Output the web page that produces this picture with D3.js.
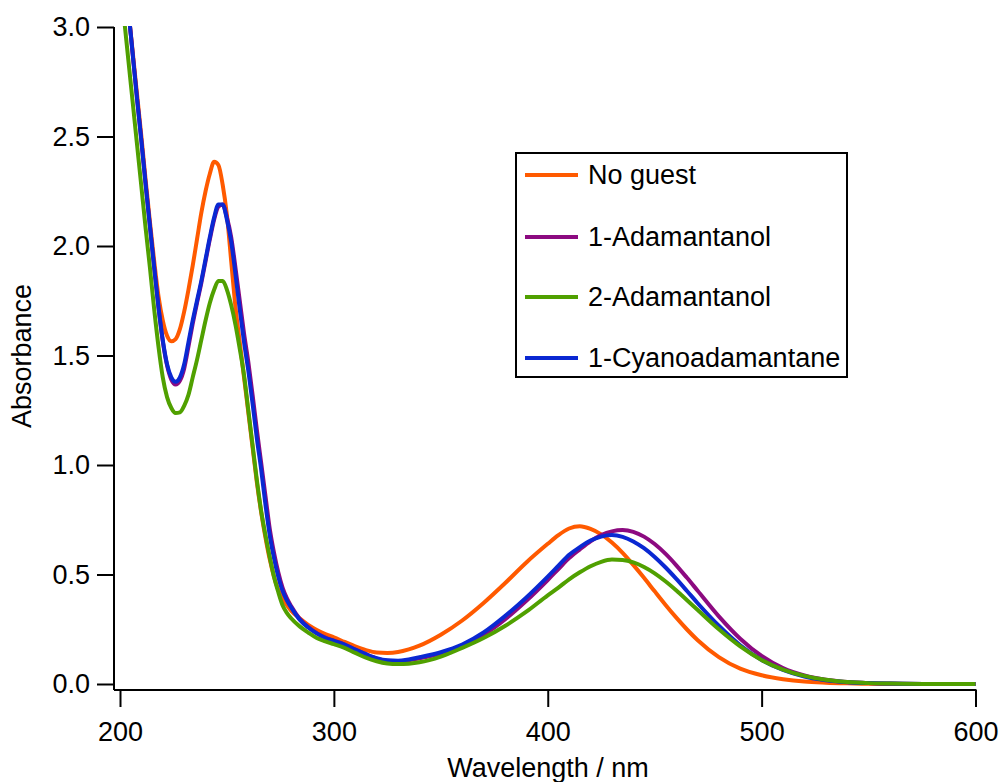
<!DOCTYPE html>
<html>
<head>
<meta charset="utf-8">
<script src="https://cdn.jsdelivr.net/npm/d3@7"></script>
<style>
  body { margin: 0; background: #fff; }
  svg { display: block; font-family: "Liberation Sans", Arial, sans-serif; }
</style>
</head>
<body>
<svg class="spectrum" width="1002" height="782"></svg>
<script>
// wavelength grid (nm) shared by all four spectra
const wavelengths = [200,202,204,206,208,210,212,214,216,218,220,222,224,226,228,230,232,234,236,238,
  240,242,244,246,248,250,252,254,256,258,260,262,264,266,268,270,272,274,276,278,280,
  284,288,292,296,300,305,310,315,320,325,330,335,340,350,360,370,380,390,400,
  405,410,415,420,425,430,435,440,445,450,455,460,465,470,480,490,500,510,520,530,540,550,560,580,600];

const noGuest = [3.45,3.26,3.07,2.88,2.69,2.50,2.30,2.11,1.93,1.77,1.66,1.59,1.565,1.575,1.62,1.70,1.80,1.91,2.03,2.15,
  2.25,2.33,2.385,2.37,2.28,2.14,1.93,1.72,1.56,1.40,1.24,1.08,0.92,0.785,0.67,0.57,0.49,0.43,0.39,0.36,0.335,
  0.30,0.27,0.247,0.228,0.213,0.192,0.172,0.155,0.144,0.142,0.146,0.158,0.175,0.225,0.29,0.37,0.46,0.555,0.64,
  0.68,0.71,0.72,0.708,0.683,0.646,0.599,0.544,0.485,0.423,0.362,0.304,0.25,0.201,0.123,0.07,0.04,0.022,0.011,0.006,0.003,0.001,0,0,0];

const adamantanol1 = [3.45,3.26,3.07,2.87,2.67,2.48,2.28,2.09,1.90,1.72,1.565,1.455,1.39,1.368,1.385,1.44,1.54,1.645,1.74,1.83,
  1.93,2.03,2.12,2.18,2.19,2.13,2.04,1.90,1.75,1.60,1.47,1.32,1.16,1.01,0.86,0.71,0.60,0.51,0.44,0.392,0.356,
  0.298,0.26,0.232,0.212,0.198,0.18,0.157,0.135,0.116,0.106,0.103,0.108,0.117,0.14,0.175,0.225,0.295,0.38,0.475,
  0.525,0.575,0.615,0.652,0.68,0.697,0.703,0.695,0.673,0.639,0.595,0.543,0.486,0.427,0.309,0.207,0.128,0.073,0.039,0.019,0.009,0.004,0.002,0,0];

const adamantanol2 = [3.22,3.03,2.84,2.65,2.46,2.27,2.08,1.90,1.71,1.54,1.40,1.31,1.26,1.237,1.24,1.27,1.32,1.40,1.48,1.57,
  1.66,1.74,1.80,1.84,1.84,1.80,1.73,1.64,1.53,1.41,1.25,1.09,0.93,0.79,0.68,0.58,0.49,0.42,0.36,0.325,0.30,
  0.263,0.235,0.21,0.195,0.182,0.165,0.142,0.12,0.104,0.094,0.091,0.093,0.099,0.125,0.165,0.21,0.265,0.33,0.405,
  0.44,0.478,0.51,0.538,0.558,0.568,0.566,0.555,0.534,0.505,0.469,0.428,0.384,0.339,0.25,0.172,0.11,0.066,0.037,0.019,0.009,0.004,0.002,0,0];

const cyanoadamantane = [3.45,3.26,3.07,2.87,2.67,2.48,2.28,2.09,1.90,1.72,1.57,1.46,1.40,1.38,1.40,1.46,1.56,1.66,1.75,1.84,
  1.94,2.04,2.13,2.19,2.19,2.12,2.02,1.87,1.71,1.56,1.43,1.28,1.12,0.98,0.82,0.68,0.575,0.49,0.425,0.382,0.35,
  0.294,0.258,0.231,0.21,0.197,0.18,0.157,0.136,0.118,0.108,0.106,0.112,0.122,0.145,0.18,0.235,0.31,0.395,0.49,
  0.54,0.59,0.625,0.655,0.673,0.68,0.672,0.651,0.62,0.58,0.533,0.481,0.426,0.37,0.266,0.177,0.11,0.064,0.034,0.017,0.008,0.004,0.002,0,0];

const seriesNames = ['No guest', '1-Adamantanol', '2-Adamantanol', '1-Cyanoadamantane'];
const seriesColors = ['#ff5a00', '#8c0a80', '#50a000', '#0a28d2'];
const xTicks = [200, 300, 400, 500, 600];
const yTicks = [0.0, 0.5, 1.0, 1.5, 2.0, 2.5, 3.0];

const svg = d3.select('.spectrum');

const x = d3.scaleLinear().domain([200, 600]).range([120, 975.5]);
const y = d3.scaleLinear().domain([0, 3]).range([684, 27]);

const axisLeft = 114;
const axisBottom = 690;
const fontSize = 27;

// plot clip so the curves are cut at 3.0 like the original
svg.append('clipPath').attr('id', 'plotClip')
  .append('rect')
  .attr('x', axisLeft + 1)
  .attr('y', y(3) - 1)
  .attr('width', x(600) - axisLeft + 10)
  .attr('height', axisBottom - y(3));

const line = d3.line()
  .x((d, i) => x(wavelengths[i]))
  .y(d => y(d))
  .curve(d3.curveMonotoneX);

const allSeries = [noGuest, adamantanol1, adamantanol2, cyanoadamantane];
// draw order: orange, purple, blue, green on top
const drawOrder = [0, 1, 3, 2];

drawOrder.forEach(k => {
  svg.append('path')
    .attr('d', line(allSeries[k]))
    .attr('fill', 'none')
    .attr('stroke', seriesColors[k])
    .attr('stroke-width', 4)
    .attr('stroke-linejoin', 'round')
    .attr('clip-path', 'url(#plotClip)');
});

// axes
const yAxis = d3.axisLeft(y)
  .tickValues(yTicks)
  .tickFormat(d3.format('.1f'))
  .tickSize(17)
  .tickPadding(7);

const yAxisG = svg.append('g')
  .attr('transform', `translate(${axisLeft},0)`)
  .call(yAxis);

yAxisG.select('.domain').attr('d', `M0,${y(3)}V${axisBottom}`);

const xAxis = d3.axisBottom(x)
  .tickValues(xTicks)
  .tickFormat(d3.format('d'))
  .tickSize(17)
  .tickPadding(15);

const xAxisG = svg.append('g')
  .attr('transform', `translate(0,${axisBottom})`)
  .call(xAxis);

xAxisG.select('.domain').attr('d', `M${axisLeft},0H${x(600) + 1}`);

[yAxisG, xAxisG].forEach(g => {
  g.selectAll('.domain').attr('stroke', '#000').attr('stroke-width', 2);
  g.selectAll('.tick line').attr('stroke', '#000').attr('stroke-width', 2);
  g.selectAll('.tick text')
    .attr('fill', '#000')
    .style('font-size', fontSize + 'px')
    .style('font-family', '"Liberation Sans", Arial, sans-serif');
});

// axis titles
svg.append('text')
  .attr('transform', `translate(31,356) rotate(-90)`)
  .attr('text-anchor', 'middle')
  .style('font-size', fontSize + 'px')
  .text('Absorbance');

svg.append('text')
  .attr('x', 548)
  .attr('y', 777)
  .attr('text-anchor', 'middle')
  .style('font-size', fontSize + 'px')
  .text('Wavelength / nm');

// legend
const legendX = 516;
const legendY = 153;
const legendRows = [175, 237, 297, 358];

svg.append('rect')
  .attr('x', legendX)
  .attr('y', legendY)
  .attr('width', 331)
  .attr('height', 224)
  .attr('fill', '#fff')
  .attr('stroke', '#000')
  .attr('stroke-width', 2);

seriesNames.forEach((name, i) => {
  svg.append('line')
    .attr('x1', 525)
    .attr('x2', 578)
    .attr('y1', legendRows[i])
    .attr('y2', legendRows[i])
    .attr('stroke', seriesColors[i])
    .attr('stroke-width', 4);

  svg.append('text')
    .attr('x', 588)
    .attr('y', legendRows[i] + 9)
    .style('font-size', fontSize + 'px')
    .text(name);
});
</script>
</body>
</html>
